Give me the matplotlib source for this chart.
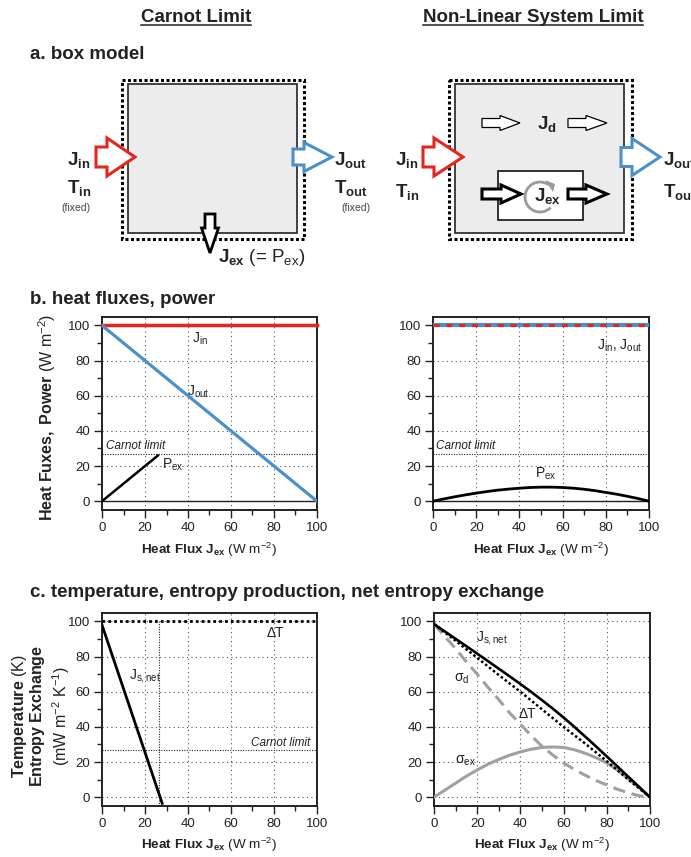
import matplotlib
matplotlib.use("Agg")
import matplotlib.pyplot as plt
from matplotlib.patches import Rectangle, Polygon, Arc
from matplotlib.ticker import MultipleLocator

plt.rcParams['font.family'] = ['Liberation Sans', 'DejaVu Sans']
plt.rcParams['mathtext.fontset'] = 'custom'
plt.rcParams['mathtext.rm'] = 'Liberation Sans'
plt.rcParams['mathtext.it'] = 'Liberation Sans:italic'
plt.rcParams['mathtext.bf'] = 'Liberation Sans:bold'
plt.rcParams['mathtext.sf'] = 'Liberation Sans'
plt.rcParams['mathtext.default'] = 'regular'

INK = '#222222'
RED = '#e4261f'
BLUE = '#4a91c9'
GRAY = '#a0a0a0'
W, H = 691, 857

# ---- data: Carnot limit (left column) ----
carnot_limit = 26.7
x_ends = [0, 100]
jin_carnot = [100, 100]
jout_carnot = [100, 0]
pex_carnot_x = [0, 26]
pex_carnot = [0, 26]
dT_carnot = [100, 100]
jsnet_carnot_x = [0, 28]
jsnet_carnot = [98, -3.5]

# ---- data: non-linear system limit (right column) ----
x10 = [0, 10, 20, 30, 40, 50, 60, 70, 80, 90, 100]
x5 = [0, 5, 10, 15, 20, 25, 30, 35, 40, 45, 50, 55, 60, 65, 70, 75, 80, 85, 90, 95, 100]
jin_nl = [100, 100]
jout_nl = [100, 100]
pex_nl = [0, 1.3, 2.5, 3.6, 4.6, 5.5, 6.3, 6.9, 7.4, 7.8, 8.0,
          8.0, 7.8, 7.4, 6.8, 6.0, 5.0, 4.0, 2.8, 1.5, 0]
jsnet_nl = [98.5, 94.3, 90.1, 85.9, 81.7, 77.4, 73.1, 68.8, 64.4, 59.9, 55.2,
            50.4, 45.3, 40.0, 34.5, 28.9, 23.2, 17.4, 11.6, 5.8, 0]
dT_nl = [98.5, 89, 79.3, 69.5, 60, 50, 40, 30.5, 20.5, 10, 0]
sigma_d = [98.5, 91.5, 84.5, 77, 70, 62.5, 55.5, 48, 41.5, 35, 29,
           24, 19.5, 15.8, 12.5, 9.5, 7, 4.5, 2.5, 0.8, 0]
sigma_ex = [0, 4, 8, 12, 15.5, 18.8, 21.5, 23.9, 25.8, 27.3, 28.3,
            28.6, 28.3, 27, 25, 22.5, 19.5, 15.5, 10.5, 5.5, 0]

fig = plt.figure(figsize=(W / 100, H / 100), dpi=100)

# overlay in pixel coordinates for the box models and labels
ax0 = fig.add_axes([0, 0, 1, 1], zorder=0)
ax0.set_xlim(0, W)
ax0.set_ylim(H, 0)
ax0.axis('off')


def panel(x0, y0, x1, y1, carnot=True):
    ax = fig.add_axes([x0 / W, 1 - y1 / H, (x1 - x0) / W, (y1 - y0) / H], zorder=2)
    ax.set_xlim(0, 100)
    ax.set_ylim(-5, 104.8)
    ax.set_xticks(range(0, 101, 20))
    ax.set_yticks(range(0, 101, 20))
    ax.xaxis.set_minor_locator(MultipleLocator(10))
    ax.yaxis.set_minor_locator(MultipleLocator(10))
    ax.tick_params(which='major', direction='out', length=6, width=1,
                   labelsize=9.5, pad=2.5, colors=INK)
    ax.tick_params(which='minor', direction='out', length=3.5, width=1, colors=INK)
    for s in ax.spines.values():
        s.set_linewidth(1.4)
        s.set_color(INK)
    for v in (20, 40, 60, 80):
        ax.axvline(v, color='#555555', lw=0.8, ls=(0, (1, 3)), zorder=1)
    for v in (0, 20, 40, 60, 80, 100):
        ax.axhline(v, color='#555555', lw=0.8, ls=(0, (1, 3)), zorder=1)
    if carnot:
        ax.axhline(carnot_limit, color=INK, lw=0.8, ls=(0, (1, 1.3)), zorder=1)
    return ax


def harrow(x0, x1, xh, yc, h1, h2, **kw):
    pts = [(x0, yc - h1), (xh, yc - h1), (xh, yc - h2), (x1, yc),
           (xh, yc + h2), (xh, yc + h1), (x0, yc + h1)]
    ax0.add_patch(Polygon(pts, closed=True, joinstyle='miter', **kw))


def varrow(xc, y0, y1, yh, w1, w2, **kw):
    pts = [(xc - w1, y0), (xc - w1, yh), (xc - w2, yh), (xc, y1),
           (xc + w2, yh), (xc + w1, yh), (xc + w1, y0)]
    ax0.add_patch(Polygon(pts, closed=True, joinstyle='miter', **kw))


# ---- titles and section headers ----
t1 = ax0.text(196, 22, 'Carnot Limit', ha='center', va='baseline',
              fontsize=13.5, fontweight='bold', color=INK)
t2 = ax0.text(533, 22, 'Non-Linear System Limit', ha='center', va='baseline',
              fontsize=13.5, fontweight='bold', color=INK)
ax0.text(30, 59, 'a. box model', fontsize=13.5, fontweight='bold', color=INK, va='baseline')
ax0.text(30, 304, 'b. heat fluxes, power', fontsize=13.5, fontweight='bold', color=INK, va='baseline')
ax0.text(30, 597, 'c. temperature, entropy production, net entropy exchange',
         fontsize=13.5, fontweight='bold', color=INK, va='baseline')

# ---- a. box model, Carnot ----
ax0.add_patch(Rectangle((122, 80), 182, 159, fill=False, ec='black', lw=2.2,
                        ls=(0, (1, 0.8)), zorder=2))
ax0.add_patch(Rectangle((128, 84), 169, 149, fc='#ececec', ec='#333333', lw=1.3, zorder=2))
harrow(96, 135, 107, 157, 10, 19, fc='white', ec=RED, lw=2.2, zorder=3)
harrow(293, 332, 304, 157, 8, 14.5, fc='white', ec=BLUE, lw=2.2, zorder=3)
varrow(210, 214, 253, 228, 5, 8.5, fc='white', ec='black', lw=2, zorder=3)

bl = dict(fontsize=13.5, color=INK, va='baseline', ha='left')
ax0.text(67, 165, r'$\mathbf{J_{in}}$', **bl)
ax0.text(67, 193, r'$\mathbf{T_{in}}$', **bl)
ax0.text(76, 211, '(fixed)', fontsize=7.5, color='#444444', ha='center', va='baseline')
ax0.text(334, 165, r'$\mathbf{J_{out}}$', **bl)
ax0.text(334, 193, r'$\mathbf{T_{out}}$', **bl)
ax0.text(356, 211, '(fixed)', fontsize=7.5, color='#444444', ha='center', va='baseline')
ax0.text(218, 262, r'$\mathbf{J_{ex}}$ (= P$_{ex}$)', **bl)

# ---- a. box model, non-linear ----
ax0.add_patch(Rectangle((449, 80), 183, 159, fill=False, ec='black', lw=2.2,
                        ls=(0, (1, 0.8)), zorder=2))
ax0.add_patch(Rectangle((455, 84), 169, 149, fc='#ececec', ec='#333333', lw=1.3, zorder=2))
ax0.add_patch(Rectangle((498, 171), 85, 49, fc='white', ec='#222222', lw=1.3, zorder=2))
harrow(423, 463, 434, 157, 10, 19, fc='white', ec=RED, lw=2.2, zorder=3)
harrow(621, 660, 632, 157, 9.5, 18.5, fc='white', ec=BLUE, lw=2.2, zorder=3)
harrow(482, 520, 500, 123, 4.5, 7.5, fc='white', ec='black', lw=0.9, zorder=3)
harrow(568, 607, 586, 123, 4.5, 7.5, fc='white', ec='black', lw=0.9, zorder=3)
harrow(482, 521, 501, 194, 5, 9, fc='white', ec='black', lw=2.2, zorder=3)
harrow(568, 607, 586, 194, 5, 9, fc='white', ec='black', lw=2.2, zorder=3)
ax0.add_patch(Arc((540, 197), 30, 30, theta1=45, theta2=305, color='#9a9a9a', lw=2, zorder=3))
ax0.add_patch(Polygon([(545, 180), (555, 184), (553, 192)], closed=True,
                      fc='#9a9a9a', ec='none', zorder=3))
ax0.text(395, 165, r'$\mathbf{J_{in}}$', **bl)
ax0.text(395, 197, r'$\mathbf{T_{in}}$', **bl)
ax0.text(663, 165, r'$\mathbf{J_{out}}$', **bl)
ax0.text(663, 197, r'$\mathbf{T_{out}}$', **bl)
ax0.text(537, 129, r'$\mathbf{J_{d}}$', **bl)
ax0.text(534, 201, r'$\mathbf{J_{ex}}$', zorder=4, **bl)

# ---- b. heat fluxes, power ----
ax_bl = panel(102, 317, 317, 510)
ax_bl.axhline(0, color=INK, lw=1, zorder=2)
ax_bl.plot(x_ends, jin_carnot, color=RED, lw=2.5, zorder=3, clip_on=False)
ax_bl.plot(x_ends, jout_carnot, color=BLUE, lw=2.3, zorder=3)
ax_bl.plot(pex_carnot_x, pex_carnot, color='black', lw=1.8, zorder=3)
ax_bl.text(2, 31.3, 'Carnot limit', fontsize=8.5, style='italic', color=INK, va='center')
ax_bl.text(41.9, 92.5, r'J$_{in}$', fontsize=10, color=INK, va='center')
ax_bl.text(39.5, 62.5, r'J$_{out}$', fontsize=10, color=INK, va='center')
ax_bl.text(27.9, 20.5, r'P$_{ex}$', fontsize=10, color=INK, va='center')

ax_br = panel(433, 317, 649, 510)
ax_br.axhline(0, color=INK, lw=1, zorder=2)
ax_br.plot(x_ends, jout_nl, color=BLUE, lw=3, zorder=3)
ax_br.plot(x_ends, jin_nl, color=RED, lw=2.2, ls=(0, (2, 2.2)), zorder=4)
ax_br.plot(x5, pex_nl, color='black', lw=2, zorder=3)
ax_br.text(1.5, 31.3, 'Carnot limit', fontsize=8.5, style='italic', color=INK, va='center')
ax_br.text(75.7, 88.6, r'J$_{in}$, J$_{out}$', fontsize=10, color=INK, va='center')
ax_br.text(47.4, 15.7, r'P$_{ex}$', fontsize=10, color=INK, va='center')

# ---- c. temperature, entropy ----
ax_cl = panel(102, 613, 317, 806)
ax_cl.plot(x_ends, dT_carnot, color='black', lw=2, ls=(0, (1, 1.1)), zorder=3)
ax_cl.plot([carnot_limit, carnot_limit], [100, -5], color=INK, lw=0.8,
           ls=(0, (1, 1.3)), zorder=2)
ax_cl.plot(jsnet_carnot_x, jsnet_carnot, color='black', lw=2, zorder=3)
ax_cl.text(97, 31.1, 'Carnot limit', fontsize=8.5, style='italic', color=INK,
           va='center', ha='right')
ax_cl.text(76.7, 93.4, 'ΔT', fontsize=10, color=INK, va='center')
ax_cl.text(12.4, 69.2, r'J$_{s,net}$', fontsize=10, color=INK, va='center')

ax_cr = panel(434, 613, 650, 806, carnot=False)
ax_cr.plot(x5, sigma_ex, color=GRAY, lw=2.2, zorder=3)
ax_cr.plot(x5, sigma_d, color=GRAY, lw=2.2, ls=(0, (4, 2.2)), zorder=3)
ax_cr.plot(x10, dT_nl, color='black', lw=1.8, ls=(0, (1, 1)), zorder=4)
ax_cr.plot(x5, jsnet_nl, color='black', lw=1.9, zorder=4)
ax_cr.text(19.6, 90.7, r'J$_{s,net}$', fontsize=10, color=INK, va='center')
ax_cr.text(9.1, 67.6, r'σ$_{d}$', fontsize=10, color=INK, va='center')
ax_cr.text(39, 47.2, 'ΔT', fontsize=10, color=INK, va='center')
ax_cr.text(9.6, 20.6, r'σ$_{ex}$', fontsize=10, color=INK, va='center')

# ---- axis labels ----
xlab = r'$\mathbf{Heat\ Flux\ J_{ex}}$ (W m$^{-2}$)'
lab = dict(fontsize=9.7, color=INK, ha='center', va='center')
ax0.text(209, 550, xlab, **lab)
ax0.text(541, 550, xlab, **lab)
ax0.text(209, 845, xlab, **lab)
ax0.text(542, 845, xlab, **lab)
ylab = dict(lab, fontsize=11.5)
ax0.text(47, 417, r'$\mathbf{Heat\ Fuxes,\ Power}$ (W m$^{-2}$)', rotation=90, **ylab)
ax0.text(20, 716, r'$\mathbf{Temperature}$ (K)', rotation=90, **ylab)
ax0.text(38, 716, r'$\mathbf{Entropy\ Exchange}$', rotation=90, **ylab)
ax0.text(61, 716, r'(mW m$^{-2}$ K$^{-1}$)', rotation=90, **ylab)

# underline the column titles
fig.canvas.draw()
inv = ax0.transData.inverted()
for t in (t1, t2):
    bb = t.get_window_extent()
    (xa, _), (xb, _) = inv.transform([(bb.x0, 0), (bb.x1, 0)])
    ax0.plot([xa, xb], [24.5, 24.5], color=INK, lw=1.1)

fig.savefig('out.png', dpi=100)
